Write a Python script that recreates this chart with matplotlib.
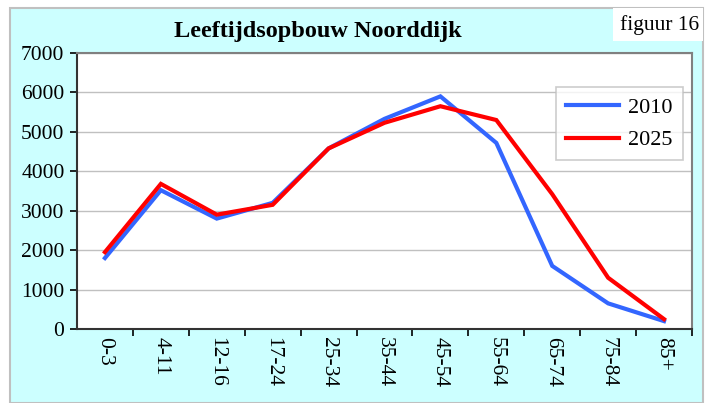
import matplotlib
matplotlib.use("Agg")
import matplotlib.pyplot as plt
from matplotlib.patches import Rectangle

# data
categories = ["0-3", "4-11", "12-16", "17-24", "25-34", "35-44",
              "45-54", "55-64", "65-74", "75-84", "85+"]
pop_2010 = [1800, 3520, 2800, 3200, 4580, 5330, 5900, 4720, 1600, 650, 200]
pop_2025 = [1950, 3680, 2900, 3150, 4580, 5230, 5650, 5300, 3420, 1300, 250]
y_ticks = [0, 1000, 2000, 3000, 4000, 5000, 6000, 7000]

W, H = 715, 403
fig = plt.figure(figsize=(W / 100, H / 100), dpi=100)
fig.patch.set_facecolor("white")

# cyan chart area with grey frame
fig.patches.append(Rectangle((10 / W, 0), 693 / W, 1 - 8 / H, transform=fig.transFigure,
                             facecolor="#ccffff", edgecolor="#c0c0c0", linewidth=1.5,
                             zorder=-2))
# white box for "figuur 16"
fig.patches.append(Rectangle((613 / W, 1 - 41 / H), 90 / W, 33 / H, transform=fig.transFigure,
                             facecolor="white", edgecolor="none", zorder=-1))

serif = ["Liberation Serif", "DejaVu Serif"]

ax = fig.add_axes([77 / W, 1 - 329 / H, 615 / W, 276 / H])
ax.set_facecolor("white")
x = list(range(len(categories)))
ax.plot(x, pop_2010, color="#3366ff", linewidth=3, label="2010", solid_joinstyle="miter")
ax.plot(x, pop_2025, color="#ff0000", linewidth=3, label="2025", solid_joinstyle="miter")

ax.set_xlim(-0.5, len(categories) - 0.5)
ax.set_ylim(0, 7000)
ax.set_yticks(y_ticks)
ax.set_yticklabels([str(v) for v in y_ticks], fontfamily=serif, fontsize=15.5)
ax.set_xticks([i + 0.5 for i in range(len(categories))])
ax.set_xticklabels([])
ax.set_xticks(x, minor=True)
ax.set_xticklabels(categories, minor=True, rotation=270, fontfamily=serif, fontsize=15.5)
ax.tick_params(axis="x", which="minor", length=0, pad=6)
ax.tick_params(axis="x", which="major", length=5, direction="out", width=1.2)
ax.tick_params(axis="y", length=5, direction="out", width=1.2, pad=4)
ax.grid(axis="y", color="#c0c0c0", linewidth=1)
ax.set_axisbelow(True)
for side in ["left", "bottom"]:
    ax.spines[side].set_color("#333333")
    ax.spines[side].set_linewidth(1.5)
for side in ["top", "right"]:
    ax.spines[side].set_color("#808080")
    ax.spines[side].set_linewidth(1.5)

leg = ax.legend(loc="upper left", bbox_to_anchor=((556 - 77) / 615, (329 - 87) / 276),
                borderaxespad=0, prop={"family": serif, "size": 16}, frameon=True,
                fancybox=False, handlelength=2.4, borderpad=0.45, labelspacing=0.55,
                handletextpad=0.4)
leg.get_frame().set_edgecolor("#c0c0c0")
leg.get_frame().set_linewidth(1.2)

fig.text(318 / W, 1 - 31 / H, "Leeftijdsopbouw Noorddijk", ha="center", va="center",
         fontfamily=serif, fontweight="bold", fontsize=17.5)
fig.text(660 / W, 1 - 25 / H, "figuur 16", ha="center", va="center",
         fontfamily=serif, fontsize=15.5)

fig.savefig("out.png", dpi=100, facecolor=fig.get_facecolor())
